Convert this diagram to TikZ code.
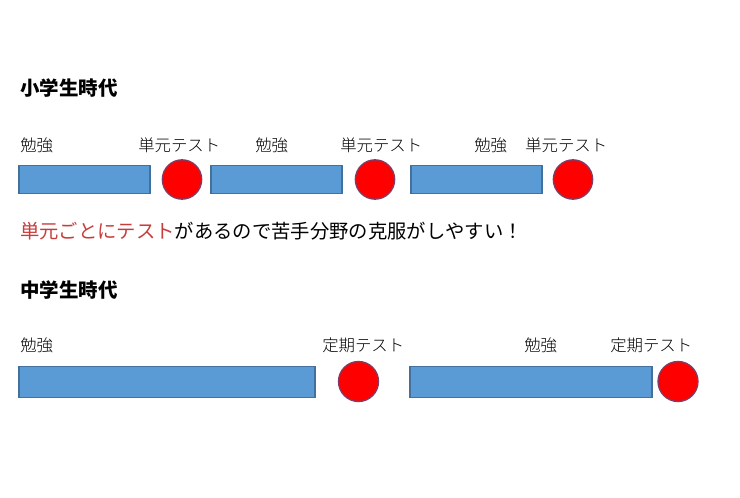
\documentclass[tikz,border=0pt]{standalone}
\usepackage{fontspec}
\setmainfont{Noto Sans CJK JP}
\newfontfamily\jplight{Noto Sans CJK JP Light}
\usetikzlibrary{calc}
\usetikzlibrary{positioning}

\definecolor{barblue}{RGB}{91,155,213}
\definecolor{barline}{RGB}{65,113,156}
\definecolor{testred}{RGB}{255,0,0}
\definecolor{testline}{RGB}{130,60,100}
\definecolor{notered}{RGB}{200,60,60}

\tikzset{
  study/.style={draw=barline, fill=barblue, line width=1pt, inner sep=0pt, minimum height=21pt},
  exam/.style={circle, draw=testline, fill=testred, line width=1pt, inner sep=0pt, minimum size=29.5pt},
  lbl/.style={anchor=west, inner sep=0pt, font=\jplight\fontsize{12.3pt}{14pt}\selectfont},
  heading/.style={anchor=west, inner sep=0pt, font=\bfseries\fontsize{14.6pt}{16pt}\selectfont}
}

\begin{document}
\begin{tikzpicture}[x=0.75pt, y=-0.75pt]
  \useasboundingbox [fill=white] (0,0) rectangle (740,498);

  % elementary school
  \node [heading] (elem) at (20,88) {小学生時代};

  \node [study, minimum width=98.25pt] (bar1) at (84.5,179.5) {};
  \node [exam] (test1) at (182,179.5) {};
  \node [study, minimum width=98.25pt] (bar2) at (276.5,179.5) {};
  \node [exam] (test2) at (375,179.5) {};
  \node [study, minimum width=98.25pt] (bar3) at (476.5,179.5) {};
  \node [exam] (test3) at (573,179.5) {};

  \foreach \x/\t [count=\i] in {20/勉強, 138/単元テスト, 255/勉強, 340/単元テスト, 474/勉強, 525/単元テスト} {
    \node [lbl] (elemlabel\i) at (\x,145) {\t};
  }

  \node [anchor=west, inner sep=0pt, font=\fontsize{14.5pt}{16pt}\selectfont] (note) at (20,231)
    {\textcolor{notered}{単元ごとにテスト}があるので苦手分野の克服がしやすい！};

  % junior high school
  \node [heading] (junior) at (20,290.5) {中学生時代};

  \node [study, minimum width=222pt, minimum height=23.25pt] (bar4) at (167,382.3) {};
  \node [exam, minimum size=30pt] (test4) at (358.5,381.5) {};
  \node [study, minimum width=181.5pt, minimum height=23.25pt] (bar5) at (531,382.3) {};
  \node [exam, minimum size=30pt] (test5) at (678,381.5) {};

  \foreach \x/\t [count=\i] in {20/勉強, 322/定期テスト, 524/勉強, 610/定期テスト} {
    \node [lbl] (juniorlabel\i) at (\x,345) {\t};
  }

\end{tikzpicture}
\end{document}
